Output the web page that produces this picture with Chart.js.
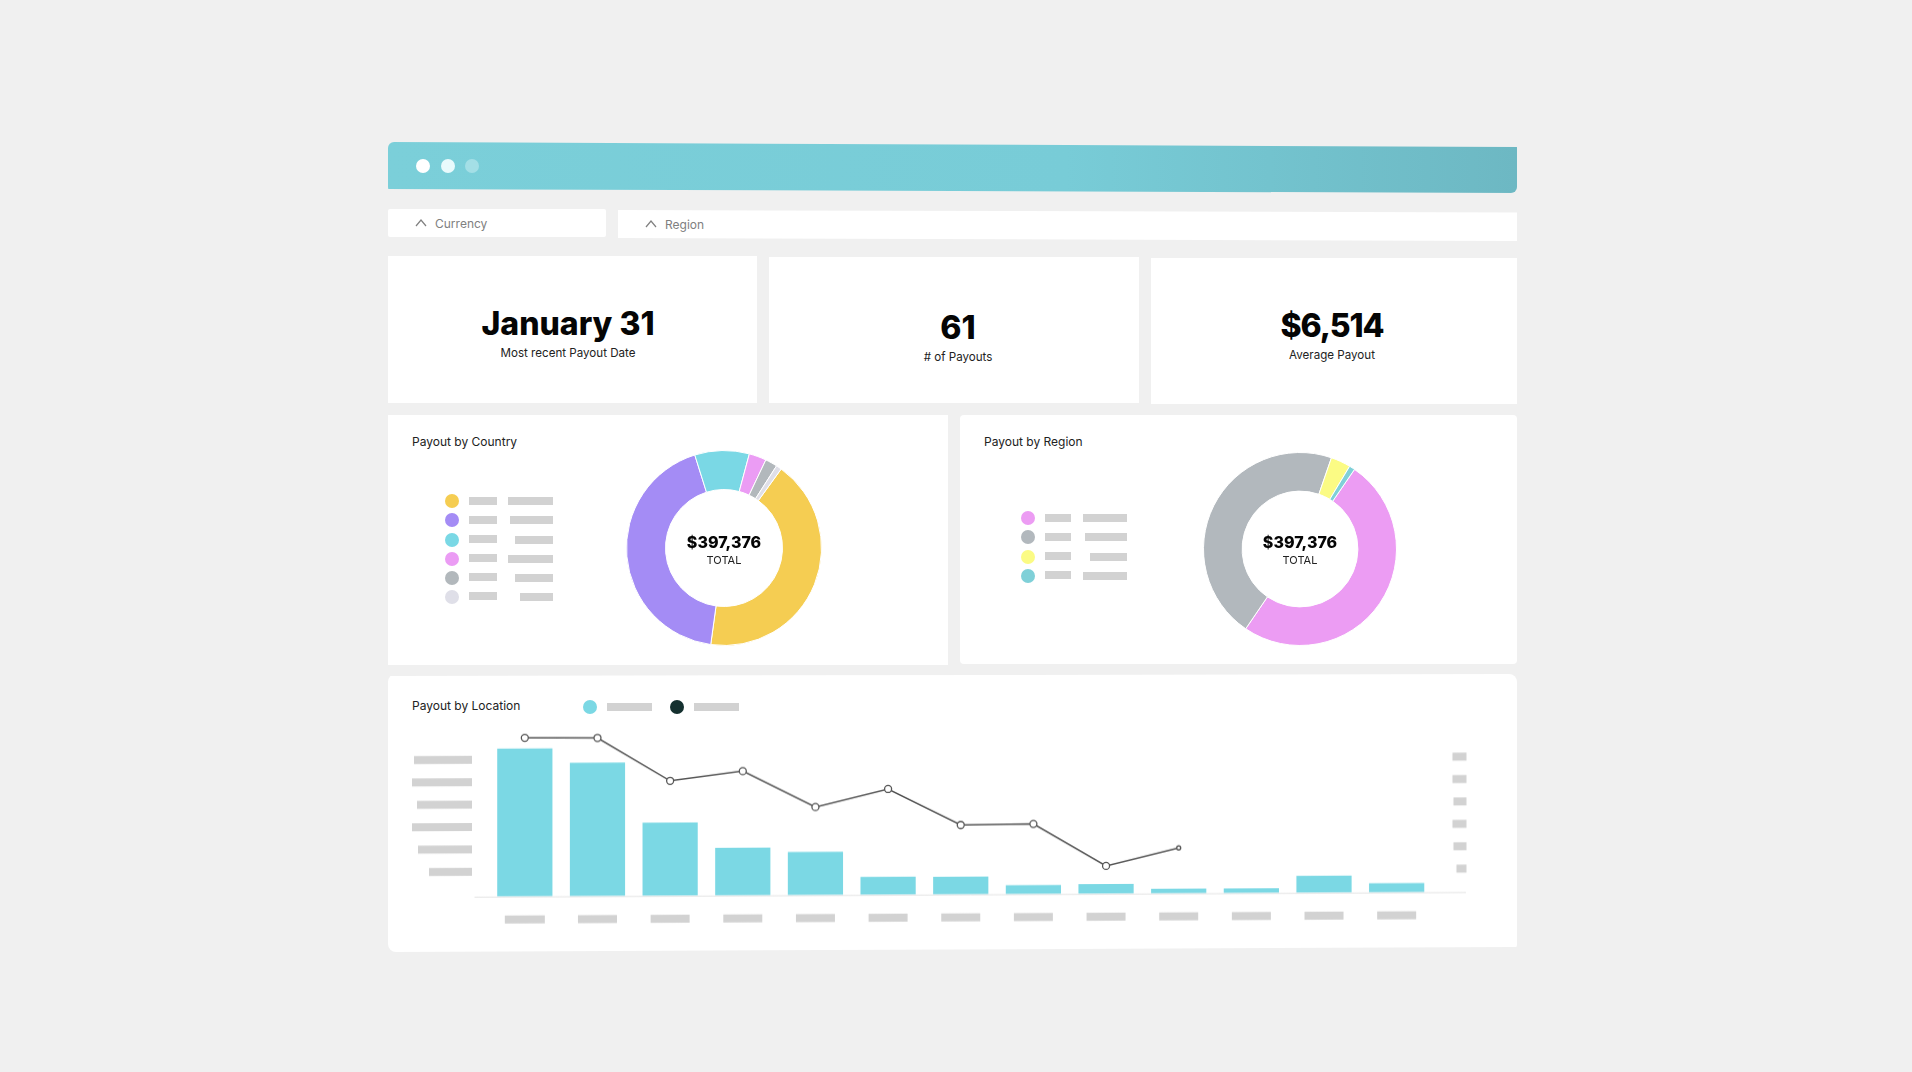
<!DOCTYPE html>
<html>
<head>
<meta charset="utf-8">
<title>Payouts dashboard</title>
<script src="https://cdn.jsdelivr.net/npm/chart.js@4"></script>
<style>
html, body { margin: 0; padding: 0; background: #f0f0f0; width: 1912px; height: 1072px; overflow: hidden; font-family: Inter, sans-serif; color: #111; }
body { filter: blur(0.45px); }
.box { position: absolute; background: #fff; }
.txt { position: absolute; white-space: nowrap; transform: translate(-50%, -50%); }
.left { transform: translate(0, -50%); }
.big { font-size: 32px; font-weight: 800; color: #050505; }
.sub { font-size: 11.6px; color: #222; }
.title { font-size: 12px; color: #222; }
.filter { font-size: 12px; color: #808080; }
.sum { font-size: 16px; font-weight: 800; color: #050505; }
.tot { font-size: 11px; color: #222; }
.ph { position: absolute; background: #d2d2d2; height: 8px; }
.dot { position: absolute; width: 14px; height: 14px; border-radius: 50%; transform: translate(-50%, -50%); }
canvas { position: absolute; }
svg { position: absolute; }
</style>
</head>
<body>
<div class="box" style="left:388px;top:142px;width:1129px;height:51px;border-radius:6px;background:linear-gradient(90deg,#7bcfd9,#78ccd7 60%,#6db8c3);clip-path:polygon(0 0,100% 5px,100% 100%,0 47px)"></div>
<div class="dot" style="left:423px;top:166px;background:#fff"></div>
<div class="dot" style="left:447.5px;top:166px;background:#e9fafc"></div>
<div class="dot" style="left:472px;top:166px;background:#a4dfe6"></div>

<div class="box" style="left:388px;top:209px;width:218px;height:28px;border-radius:2px"></div>
<div class="box" style="left:618px;top:210px;width:899px;height:31px;clip-path:polygon(0 0,100% 2.5px,100% 100%,0 28px)"></div>
<svg style="left:415px;top:217px" width="12" height="12"><path d="M1 9 L6 3 L11 9" fill="none" stroke="#808080" stroke-width="1.2"/></svg>
<svg style="left:645px;top:218px" width="12" height="12"><path d="M1 9 L6 3 L11 9" fill="none" stroke="#808080" stroke-width="1.2"/></svg>
<div class="txt left filter" style="left:435px;top:223px">Currency</div>
<div class="txt left filter" style="left:665px;top:224px">Region</div>

<div class="box" style="left:388px;top:256px;width:369px;height:147px"></div>
<div class="box" style="left:769px;top:257px;width:370px;height:146px"></div>
<div class="box" style="left:1151px;top:258px;width:366px;height:146px"></div>
<div class="txt big" style="left:568px;top:323px">January 31</div>
<div class="txt sub" style="left:568px;top:353px">Most recent Payout Date</div>
<div class="txt big" style="left:958px;top:327px">61</div>
<div class="txt sub" style="left:958px;top:357px"># of Payouts</div>
<div class="txt big" style="left:1332px;top:325px;letter-spacing:-1.1px">$6,514</div>
<div class="txt sub" style="left:1332px;top:355px">Average Payout</div>

<div class="box" style="left:388px;top:415px;width:560px;height:250px"></div>
<div class="box" style="left:960px;top:415px;width:557px;height:249px;border-radius:4px"></div>
<div class="txt left title" style="left:412px;top:441px">Payout by Country</div>
<div class="txt left title" style="left:984px;top:441px">Payout by Region</div>
<canvas id="donutCountry" width="196" height="196" style="left:626px;top:449.5px"></canvas>
<canvas id="donutRegion" width="194" height="194" style="left:1203px;top:451.5px"></canvas>
<div class="txt sum" style="left:724px;top:542px">$397,376</div>
<div class="txt tot" style="left:724px;top:560px">TOTAL</div>
<div class="txt sum" style="left:1300px;top:542px">$397,376</div>
<div class="txt tot" style="left:1300px;top:560px">TOTAL</div>
<div id="legends"></div>

<div class="box" style="left:388px;top:674px;width:1129px;height:278px;border-radius:8px;clip-path:polygon(0 2px,100% 0,100% 273px,0 100%)"></div>
<div class="txt left title" style="left:412px;top:705px">Payout by Location</div>
<div class="dot" style="left:590px;top:707px;background:#7bd8e4"></div>
<div class="ph" style="left:606.5px;top:703px;width:45.5px"></div>
<div class="dot" style="left:676.5px;top:707px;background:#14302f"></div>
<div class="ph" style="left:694px;top:703px;width:45px"></div>
<canvas id="chartLocation" width="1129" height="276" style="left:388px;top:676px;transform:skewY(-0.27deg);transform-origin:86px 0"></canvas>

<script>
// donut data
let countryValues = [167700, 170800, 35900, 11400, 7950, 3626];
let countryColors = ['#f5cd52', '#a48cf5', '#7ad8e5', '#eb9cf4', '#b2b8bc', '#dfdfe8'];
let regionValues = [198500, 181900, 13200, 3776];
let regionColors = ['#ec9cf3', '#b2b8bd', '#fbfb84', '#7fd0d8'];

// payout by location
let locations = ['A', 'B', 'C', 'D', 'E', 'F', 'G', 'H', 'I', 'J', 'K', 'L', 'M'];
let payoutValues = [99100, 89300, 49100, 31900, 29000, 12050, 11850, 6000, 6500, 3150, 3150, 11400, 6200];
let shareValues = [70.8, 70.6, 51.3, 55.5, 39.3, 47.2, 31, 31.3, 12.4, 20.3];

// the labels are greyed out in the original, only their length is known
let leftTickWidths = [58, 60, 55, 60, 54, 43];
let rightTickWidths = [14, 14, 13, 14, 13, 10];
let xTickWidths = [40, 39, 39, 39, 39, 39, 39, 39, 39, 39, 39, 39, 39];
let countryLegendWidths = [45, 43, 38, 45, 38, 33];
let regionLegendWidths = [44, 42, 37.5, 44];

function fntLegend(colors, widths, dotX, firstY, stepY, barX, barW, rightX) {
    let cont = document.getElementById('legends');
    colors.forEach(function(color, i) {
        let y = firstY + stepY * i;
        let html = '<div class="dot" style="left:' + dotX + 'px;top:' + y + 'px;background:' + color + '"></div>';
        html += '<div class="ph" style="left:' + barX + 'px;top:' + (y - 4.5) + 'px;width:' + barW + 'px"></div>';
        html += '<div class="ph" style="left:' + (rightX - widths[i]) + 'px;top:' + (y - 4) + 'px;width:' + widths[i] + 'px"></div>';
        cont.insertAdjacentHTML('beforeend', html);
    });
}

function fntDonut(id, values, colors, rotation) {
    let ctx = document.getElementById(id).getContext('2d');
    return new Chart(ctx, {
        type: 'doughnut',
        data: {
            labels: values.map(function(v, i) { return 'Item ' + (i + 1); }),
            datasets: [{ data: values, backgroundColor: colors, borderColor: '#fff', borderWidth: 1 }]
        },
        options: {
            responsive: false,
            animation: false,
            cutout: '60%',
            rotation: rotation,
            plugins: { legend: { display: false }, tooltip: { enabled: false } }
        }
    });
}

// grey blocks in place of the tick labels, placed from the scales
let tickBlocks = {
    id: 'tickBlocks',
    afterDraw: function(chart) {
        let ctx = chart.ctx;
        let x = chart.scales.x;
        let yL = chart.scales.y;
        let yR = chart.scales.y1;
        ctx.save();
        ctx.fillStyle = '#d2d2d2';
        xTickWidths.forEach(function(w, i) {
            ctx.fillRect(x.getPixelForValue(i) - w / 2, chart.chartArea.bottom + 19, w, 8);
        });
        leftTickWidths.forEach(function(w, i) {
            let py = yL.getPixelForValue(15000 * (6 - i));
            ctx.fillRect(chart.chartArea.left - 16.5 - w, py - 6.5, w, 8);
        });
        rightTickWidths.forEach(function(w, i) {
            let py = yR.getPixelForValue(10 * (6 - i));
            ctx.fillRect(chart.chartArea.right + 33.5 - w, py - 5, w, 8);
        });
        // base line
        ctx.strokeStyle = '#e4e4e4';
        ctx.beginPath();
        ctx.moveTo(chart.chartArea.left - 14, chart.chartArea.bottom + 0.5);
        ctx.lineTo(chart.chartArea.right + 33, chart.chartArea.bottom + 0.5);
        ctx.stroke();
        ctx.restore();
    }
};

fntLegend(countryColors, countryLegendWidths, 452, 501.3, 19.1, 469, 27.5, 553);
fntLegend(regionColors, regionLegendWidths, 1027.7, 518.3, 19.1, 1044.7, 26.5, 1127);
fntDonut('donutCountry', countryValues, countryColors, 35.9);
fntDonut('donutRegion', regionValues, regionColors, 34.4);

new Chart(document.getElementById('chartLocation').getContext('2d'), {
    type: 'bar',
    data: {
        labels: locations,
        datasets: [
            {
                type: 'line',
                data: shareValues,
                yAxisID: 'y1',
                borderColor: '#555',
                borderWidth: 1.5,
                tension: 0,
                pointRadius: [3.5, 3.5, 3.5, 3.5, 3.5, 3.5, 3.5, 3.5, 3.5, 2],
                pointBackgroundColor: '#fff',
                pointBorderColor: '#555',
                pointBorderWidth: 1.3
            },
            {
                data: payoutValues,
                yAxisID: 'y',
                backgroundColor: '#7bd8e4',
                categoryPercentage: 1,
                barPercentage: 0.76
            }
        ]
    },
    options: {
        responsive: false,
        animation: false,
        layout: { padding: { left: 100.5, right: 84, top: 52.7, bottom: 55.3 } },
        scales: {
            x: { display: false },
            y: { display: false, min: 0, max: 112500 },
            y1: { display: false, position: 'right', min: 0, max: 75 }
        },
        plugins: { legend: { display: false }, tooltip: { enabled: false } }
    },
    plugins: [tickBlocks]
});
</script>
</body>
</html>
